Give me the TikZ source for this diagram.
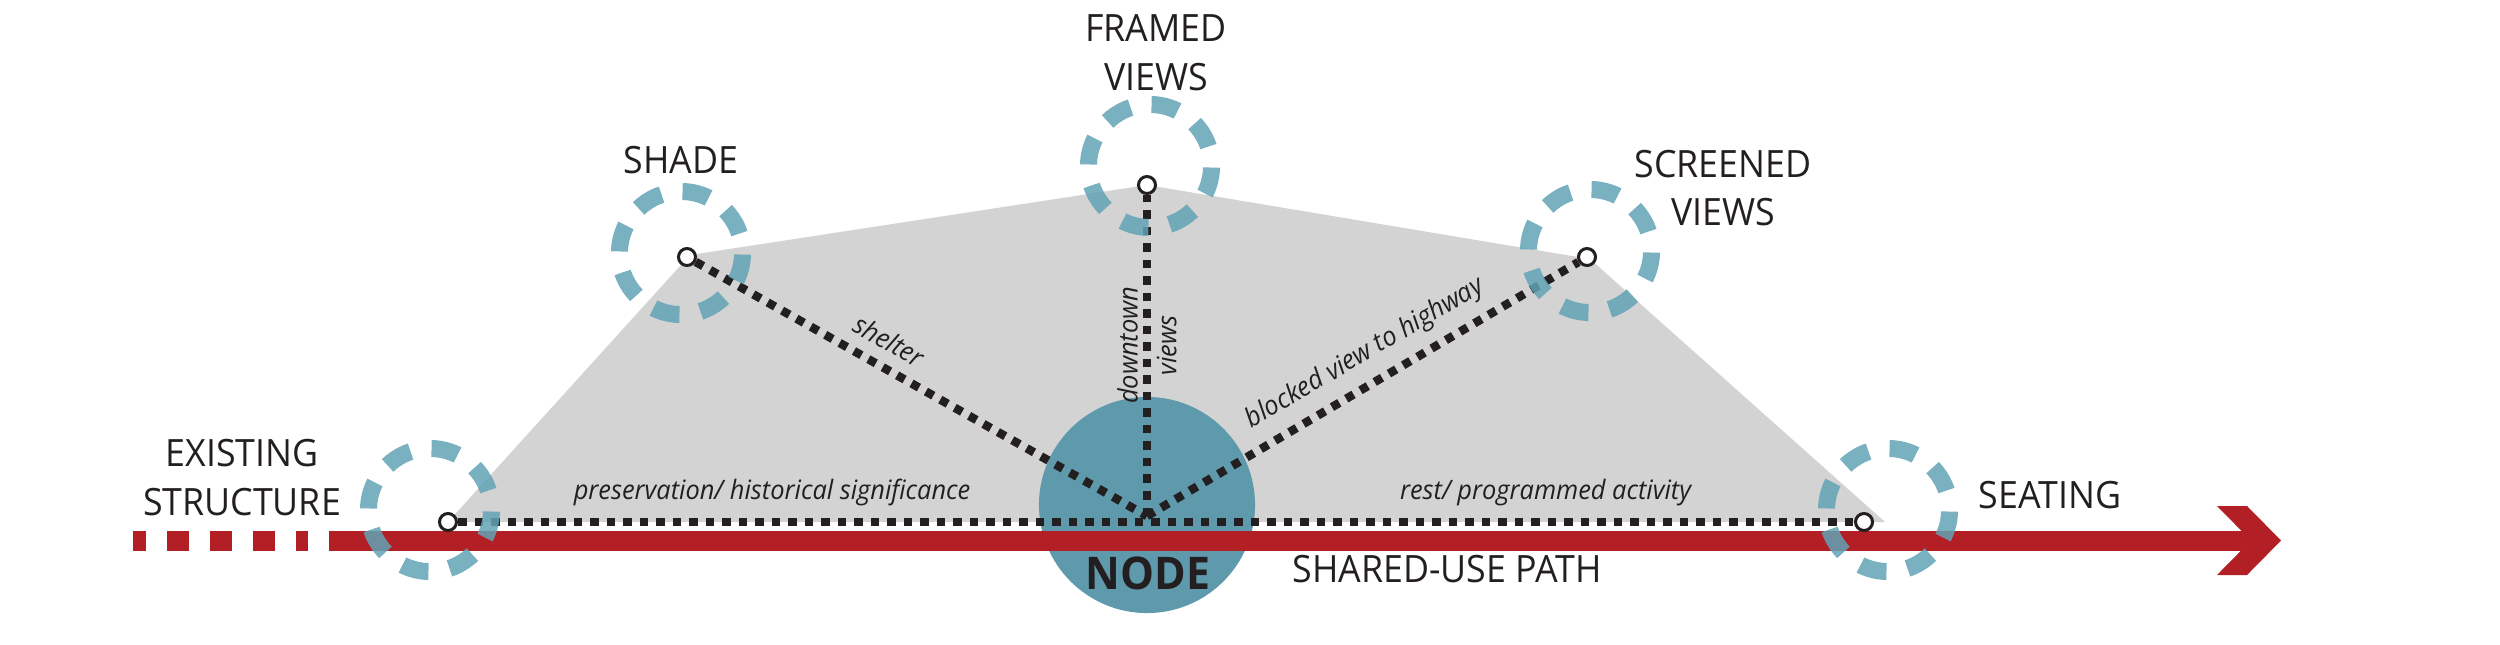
\documentclass[tikz,border=0pt]{standalone}
\usepackage{fontspec}
\setmainfont[FakeStretch=0.95]{Open Sans}
\usetikzlibrary{positioning}

\definecolor{pathred}{RGB}{178,32,38}
\definecolor{hubteal}{RGB}{94,154,172}
\definecolor{ringteal}{RGB}{98,163,182}
\definecolor{zonegray}{RGB}{211,211,211}
\definecolor{ink}{RGB}{35,31,32}

\begin{document}
\begin{tikzpicture}[x=0.01cm, y=0.01cm,
    spot/.style={circle, draw=ink, fill=white, line width=0.03cm, minimum size=0.17cm, inner sep=0pt},
    ring/.style={circle, draw=ringteal, draw opacity=0.85, line width=0.17cm, minimum size=1.23cm, inner sep=0pt, dash pattern=on 0.27cm off 0.213cm, dash phase=0.2855cm},
    link/.style={draw=ink, line width=0.085cm, dash pattern=on 0.085cm off 0.08cm},
    tag/.style={font=\fontsize{10.7}{13.9}\selectfont, text=ink, align=center, inner sep=0pt},
    note/.style={font=\fontsize{7.6}{11}\selectfont\itshape, text=ink, sloped}]

    \useasboundingbox (0,0) rectangle (2500,644);

    \fill[zonegray] (448,122) -- (690,389) -- (1147,459) -- (1590,385) -- (1885,122) -- cycle;
    \node (hub) [circle, fill=hubteal, minimum size=2.16cm, inner sep=0pt] at (1147,139) {};

    \coordinate (oldstart) at (133,103.5);
    \coordinate (oldend) at (308,103.5);
    \coordinate (pathstart) at (329,103.5);
    \coordinate (pathend) at (2256,103.5);
    \draw[pathred, line width=0.2cm, dash pattern=on 0.22cm off 0.21cm, dash phase=0.09cm] (oldstart) -- (oldend);
    \draw[pathred, line width=0.2cm] (pathstart) -- (pathend);
    \fill[pathred] (2217,138) -- (2247,138) -- (2281,103.5) -- (2247,69) -- (2217,69) -- (2251,103.5) -- cycle;

    \node (nodetext) [font=\fontsize{12.8}{15}\selectfont\bfseries, text=ink, inner sep=0pt] at (1148,71) {NODE};
    \node (pathtext) [tag] at (1447,75) {SHARED-USE PATH};

    \node (exist) [spot] at (448,122) {};
    \node (shade) [spot] at (687,387) {};
    \node (framed) [spot] at (1147,459) {};
    \node (screened) [spot] at (1587,387) {};
    \node (seating) [spot] at (1864,122) {};
    \coordinate (meet) at (1147,128);

    \draw[link] (exist) -- node[note, above, pos=0.225] {preservation/ historical significance}
        node[note, above, pos=0.779] {rest/ programmed activity} (seating);
    \draw[link] (shade) -- node[note, above, pos=0.40] {shelter} (meet);
    \draw[link] (meet) -- node[note, align=center, pos=0.532] {downtown\\views} (framed);
    \draw[link] (meet) -- node[note, above, pos=0.54] {blocked view to highway} (screened);

    \node (existring) [ring] at (430,134) {};
    \node (shadering) [ring] at (681,391) {};
    \node (framedring) [ring] at (1150,478) {};
    \node (screenedring) [ring] at (1590,393) {};
    \node (seatingring) [ring] at (1888,134) {};

    \node (existlabel) [tag] at (242,166.5) {EXISTING\\STRUCTURE};
    \node (shadelabel) [tag, above=0.085cm of shadering] {SHADE};
    \node (framedlabel) [tag] at (1156,591.5) {FRAMED\\VIEWS};
    \node (screenedlabel) [tag] at (1723,456) {SCREENED\\VIEWS};
    \node (seatinglabel) [tag] at (2050,149) {SEATING};
\end{tikzpicture}
\end{document}
